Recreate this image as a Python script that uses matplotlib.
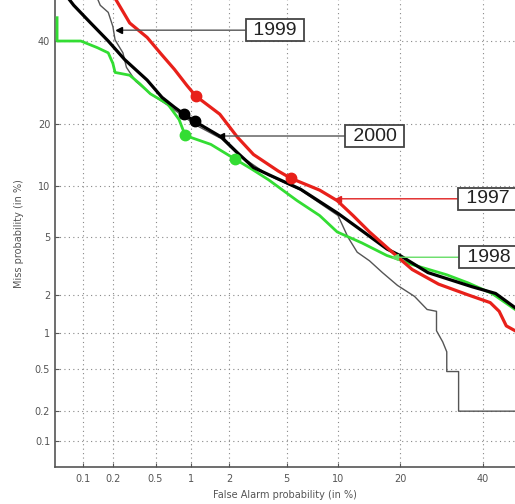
import math
from statistics import NormalDist
import numpy as np
import matplotlib
matplotlib.use('Agg')
import matplotlib.pyplot as plt

# DET curves, values in % (false alarm, miss)
fa_1997 = [0.21, 0.29, 0.42, 0.56, 0.73, 0.93, 1.1, 1.7, 2.3, 3.0, 4.4, 5.3, 7.9, 9.9, 12, 14.5,
           17.5, 20, 22.5, 28.5, 36, 42, 44.5, 46.5, 49]
miss_1997 = [52, 45, 41, 36.5, 32.5, 28.5, 26, 22, 17.5, 14.5, 12, 11, 9.5, 8.3, 6.8, 5.4,
             4.3, 3.6, 3.05, 2.4, 2.0, 1.75, 1.5, 1.15, 1.05]

fa_2000 = [0.07, 0.08, 0.12, 0.18, 0.26, 0.42, 0.57, 0.73, 0.88, 1.08, 1.75, 2.3, 3.0, 3.8, 6.1,
           10, 13.3, 17.5, 20, 26, 37, 43.5, 49]
miss_2000 = [52, 50, 45, 40, 35, 29.8, 25.7, 23.5, 22, 20.5, 17.5, 14.8, 12.5, 11.5, 9.6,
             7, 5.5, 4.2, 3.8, 2.9, 2.3, 2.05, 1.6]

fa_1998 = [0.053, 0.053, 0.095, 0.14, 0.18, 0.2, 0.21, 0.29, 0.36, 0.45, 0.64, 0.8, 0.9, 1.45,
           2.2, 2.9, 3.8, 5.8, 7.9, 9.9, 13.3, 17.5, 19.5, 22.5, 30.5, 36, 42.5, 49]
miss_1998 = [46.5, 40, 40, 38.2, 36.8, 34, 31.7, 31, 28.9, 26.5, 24.2, 20.9, 17.8, 16.2,
             13.8, 12.3, 10.8, 8.3, 6.8, 5.4, 4.6, 3.8, 3.6, 3.3, 2.8, 2.45, 2.05, 1.55]

fa_1999 = [0.14, 0.15, 0.18, 0.2, 0.21, 0.25, 0.27, 0.33, 0.45, 0.57, 0.88, 1.08, 1.75, 2.3,
           3.8, 6.1, 10, 11.3, 12.6, 14.5, 16.7, 19.5, 23, 25.8, 28, 28, 29.5, 30.5, 30.5,
           33.5, 33.5, 49]
miss_1999 = [52, 50, 48, 44, 40.3, 36.8, 33, 29.5, 26.5, 24.8, 21.5, 19.9, 17.2, 14.6,
             11.4, 9.5, 6.8, 5.0, 4.0, 3.5, 2.9, 2.35, 1.95, 1.55, 1.5, 1.05, 0.85, 0.7, 0.47,
             0.47, 0.2, 0.2]

dots_1997 = ([1.1, 5.3], [26, 11])
dots_2000 = ([0.88, 1.08], [22, 20.5])
dots_1998 = ([0.9, 2.2], [17.8, 13.8])

tick_vals = [0.1, 0.2, 0.5, 1, 2, 5, 10, 20, 40]
tick_labels = ['0.1', '0.2', '0.5', '1', '2', '5', '10', '20', '40']

# label, point on curve, text position, line colour
labels = [
    ('1999', (0.23, 43), (4.2, 43), '#555555'),
    ('2000', (1.75, 17.7), (15.4, 17.7), '#555555'),
    ('1997', (10, 8.5), (41.3, 8.5), '#e02020'),
    ('1998', (19, 3.7), (41.6, 3.7), '#66dd66'),
]

_nd = NormalDist()


def _ppf1(p):
    if p != p:
        return np.nan
    if p <= 0:
        return -8.0
    if p >= 1:
        return 8.0
    return _nd.inv_cdf(p)


_ppf = np.vectorize(_ppf1, otypes=[float])
_cdf = np.vectorize(lambda z: 0.5 * (1 + math.erf(z / math.sqrt(2))), otypes=[float])


def fwd(p):
    return _ppf(np.asarray(p, float) / 100.0)


def inv(z):
    return 100.0 * _cdf(np.asarray(z, float))


fig = plt.figure(figsize=(5.15, 5.04), dpi=100)
ax = fig.add_axes([55 / 515, 37 / 504, 460 / 515, 467 / 504])
ax.set_xscale('function', functions=(fwd, inv))
ax.set_yscale('function', functions=(fwd, inv))
ax.set_xlim(0.0503, 48.96)
ax.set_ylim(0.053, 51.5)

ax.plot(fa_1999, miss_1999, color='#555555', lw=1.0, zorder=3)
ax.plot(fa_1998, miss_1998, color='#33dd33', lw=2.0, zorder=3)
ax.plot(fa_2000, miss_2000, color='black', lw=2.3, zorder=4)
ax.plot(fa_1997, miss_1997, color='#e8201a', lw=2.3, zorder=4)

ax.plot(*dots_1998, 'o', color='#33dd33', ms=7.5, zorder=5)
ax.plot(*dots_2000, 'o', color='black', ms=7.5, zorder=5)
ax.plot(*dots_1997, 'o', color='#e8201a', ms=7.5, zorder=5)

for txt, xy, xyt, col in labels:
    ax.annotate(' ' + txt + ' ', xy=xy, xytext=xyt, textcoords='data', ha='center', va='center',
                fontsize=14, family='Liberation Sans', color='#222222',
                bbox=dict(boxstyle='square,pad=0.12', fc='white', ec='#444444', lw=1.3),
                arrowprops=dict(arrowstyle='-', color=col, lw=1.0, shrinkA=0, shrinkB=0),
                annotation_clip=False, zorder=6)
    mcol = 'black' if col == '#555555' else col
    ax.plot([xy[0]], [xy[1]], marker='<', color=mcol, ms=4, zorder=6)

ax.set_xticks(tick_vals)
ax.set_xticklabels(tick_labels)
ax.set_yticks(tick_vals)
ax.set_yticklabels(tick_labels)
ax.minorticks_off()
ax.tick_params(direction='in', length=3, labelsize=7, labelcolor='#555555', color='#555555')
ax.tick_params(axis='x', pad=5)
ax.grid(True, linestyle=(0, (1, 3)), color='#888888', lw=0.8)
ax.spines['top'].set_visible(False)
ax.spines['right'].set_visible(False)
for s in ['left', 'bottom']:
    ax.spines[s].set_color('#555555')
    ax.spines[s].set_linewidth(1.2)

ax.set_xlabel('False Alarm probability (in %)', fontsize=7, color='#555555', labelpad=4)
ax.set_ylabel('Miss probability (in %)', fontsize=7, color='#555555', labelpad=8)

fig.savefig('out.png', dpi=100)
